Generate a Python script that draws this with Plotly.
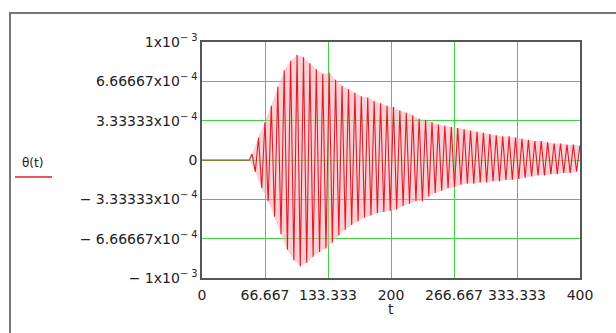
import plotly.graph_objects as go

# Positive peaks of theta(t)
pos_t = [53.0, 59.8, 66.6, 73.4, 80.2, 87.0, 93.8, 100.6, 107.4, 114.2, 121.0, 127.8,
         134.6, 141.4, 148.2, 155.0, 161.8, 168.6, 175.4, 182.2, 189.0, 195.8, 202.6,
         209.4, 216.2, 223.0, 229.8, 236.6, 243.4, 250.2, 257.0, 263.8, 270.6, 277.4,
         284.2, 291.0, 297.8, 304.6, 311.4, 318.2, 325.0, 331.8, 338.6, 345.4, 352.2,
         359.0, 365.8, 372.6, 379.4, 386.2, 393.0, 399.8]
pos_v = [0.5e-4, 1.9e-4, 3.2e-4, 4.6e-4, 6.2e-4, 7.6e-4, 8.4e-4, 8.9e-4, 8.7e-4, 8.2e-4, 7.7e-4, 7.3e-4,
         7.4e-4, 6.8e-4, 6.3e-4, 6.0e-4, 5.7e-4, 5.4e-4, 5.3e-4, 5.0e-4, 4.8e-4, 4.6e-4, 4.5e-4,
         4.2e-4, 4.0e-4, 3.8e-4, 3.5e-4, 3.4e-4, 3.2e-4, 3.0e-4, 2.9e-4, 2.8e-4, 2.7e-4, 2.6e-4,
         2.5e-4, 2.4e-4, 2.3e-4, 2.2e-4, 2.1e-4, 2.0e-4, 2.0e-4, 1.9e-4, 1.8e-4, 1.7e-4, 1.6e-4,
         1.6e-4, 1.5e-4, 1.4e-4, 1.4e-4, 1.3e-4, 1.3e-4, 1.2e-4]
# Negative peaks
neg_t = [56.4, 63.2, 70.0, 76.8, 83.6, 90.4, 97.2, 104.0, 110.8, 117.6, 124.4, 131.2,
         138.0, 144.8, 151.6, 158.4, 165.2, 172.0, 178.8, 185.6, 192.4, 199.2, 206.0,
         212.8, 219.6, 226.4, 233.2, 240.0, 246.8, 253.6, 260.4, 267.2, 274.0, 280.8,
         287.6, 294.4, 301.2, 308.0, 314.8, 321.6, 328.4, 335.2, 342.0, 348.8, 355.6,
         362.4, 369.2, 376.0, 382.8, 389.6, 396.4]
neg_v = [-1.0e-4, -2.4e-4, -3.5e-4, -4.8e-4, -6.3e-4, -7.6e-4, -8.5e-4, -9.0e-4, -8.7e-4, -8.2e-4, -7.8e-4, -7.5e-4,
         -7.0e-4, -6.4e-4, -5.9e-4, -5.5e-4, -5.2e-4, -4.9e-4, -4.7e-4, -4.5e-4, -4.4e-4, -4.3e-4, -4.2e-4,
         -3.9e-4, -3.7e-4, -3.5e-4, -3.5e-4, -3.1e-4, -2.8e-4, -2.6e-4, -2.4e-4, -2.3e-4, -2.1e-4, -2.0e-4,
         -2.0e-4, -1.9e-4, -1.9e-4, -1.8e-4, -1.8e-4, -1.7e-4, -1.7e-4, -1.6e-4, -1.5e-4, -1.4e-4, -1.3e-4,
         -1.3e-4, -1.2e-4, -1.2e-4, -1.1e-4, -1.1e-4, -1.0e-4]
# Quiet part before the oscillation
rest_t = [0.0, 50.0]
rest_v = [0.0, 0.0]

x_ticks = [0, 66.667, 133.333, 200, 266.667, 333.333, 400]
x_ticktext = ["0", "66.667", "133.333", "200", "266.667", "333.333", "400"]
y_ticks = [-1e-3, -6.66667e-4, -3.33333e-4, 0, 3.33333e-4, 6.66667e-4, 1e-3]
y_ticktext = ["\u2212 1x10<sup>\u2212 3</sup>", "\u2212 6.66667x10<sup>\u2212 4</sup>",
              "\u2212 3.33333x10<sup>\u2212 4</sup>", "0",
              "3.33333x10<sup>\u2212 4</sup>", "6.66667x10<sup>\u2212 4</sup>",
              "1x10<sup>\u2212 3</sup>"]

pts = sorted(list(zip(rest_t, rest_v)) + list(zip(pos_t, pos_v)) + list(zip(neg_t, neg_v)))
t_all = [p[0] for p in pts]
v_all = [p[1] for p in pts]

W, H = 616, 333
L, R, T, B = 202, 36, 42, 55
pw, ph = W - L - R, H - T - B

def px(x):
    return (x - L) / pw

def py(y):
    return (H - B - y) / ph

fig = go.Figure()
# faint pink band between the envelopes (antialiased look of the dense trace)
band_t = [50.0] + pos_t + neg_t[::-1] + [50.0]
band_v = [0.0] + pos_v + neg_v[::-1] + [0.0]
fig.add_trace(go.Scatter(x=band_t, y=band_v, mode="lines", fill="toself",
                         fillcolor="rgba(248,170,178,0.55)", line=dict(width=0),
                         showlegend=False, hoverinfo="skip"))
fig.add_trace(go.Scatter(x=t_all, y=v_all, mode="lines",
                         line=dict(color="#d8202c", width=1.1), showlegend=False,
                         hoverinfo="skip"))

font = dict(family="DejaVu Sans", size=14, color="#222222")
grid = "#3fd43f"
fig.update_layout(
    width=W, height=H,
    margin=dict(l=L, r=R, t=T, b=B),
    paper_bgcolor="white", plot_bgcolor="white",
    font=font,
    xaxis=dict(range=[0, 400], tickvals=x_ticks, ticktext=x_ticktext,
               showgrid=True, gridcolor=grid, gridwidth=1, zeroline=False,
               showline=True, linecolor="#555555", linewidth=1.5, mirror=True,
               ticks="", tickfont=font, ticklabelstandoff=3),
    yaxis=dict(range=[-1e-3, 1e-3], tickvals=y_ticks, ticktext=y_ticktext,
               showgrid=True, gridcolor=grid, gridwidth=1, zeroline=False,
               showline=True, linecolor="#555555", linewidth=1.5, mirror=True,
               ticks="", tickfont=font),
)

# x axis title
fig.add_annotation(text="t", x=0.5, y=py(309), xref="paper", yref="paper",
                   showarrow=False, font=font, xanchor="center", yanchor="middle")
# legend label and sample line
fig.add_annotation(text="\u03b8(t)", x=px(32), y=py(163), xref="paper", yref="paper",
                   showarrow=False, font=dict(family="DejaVu Sans", size=12, color="#222222"),
                   xanchor="center", yanchor="middle")
fig.add_shape(type="line", xref="paper", yref="paper",
              x0=px(15), x1=px(52), y0=py(177), y1=py(177),
              line=dict(color="#e0202a", width=1.5))
# outer region frame
fig.add_shape(type="rect", xref="paper", yref="paper",
              x0=px(10), x1=px(625), y0=py(345), y1=py(13),
              line=dict(color="#777777", width=2), layer="below")

fig.write_html("out.html", config={"displayModeBar": False},
               post_script="document.body.style.margin='0';document.body.style.overflow='hidden';")
